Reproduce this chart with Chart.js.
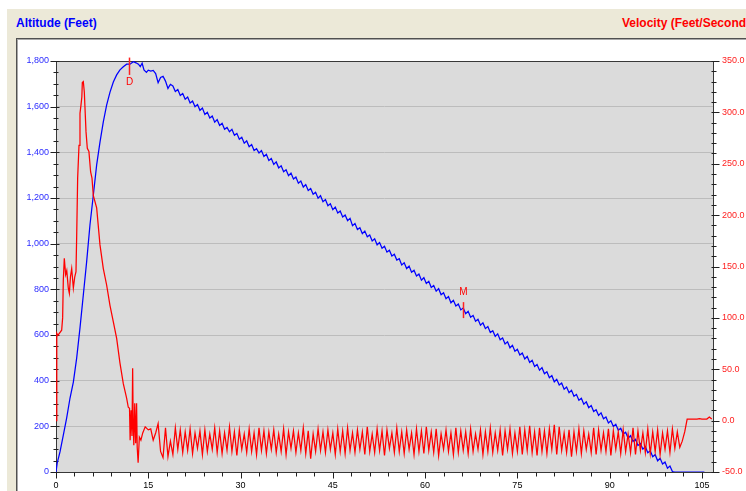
<!DOCTYPE html>
<html lang="en">
<head>
<meta charset="UTF-8">
<title>Altitude / Velocity</title>
<script src="https://cdn.jsdelivr.net/npm/chart.js"></script>
<style>
  html, body { margin: 0; padding: 0; width: 746px; height: 491px; overflow: hidden; background: #fff;
    font-family: 'Liberation Sans', Arial, sans-serif; }
  .frame { position: absolute; left: 7px; top: 9px; right: 0; bottom: 0; background: #ece9d8; }
  .title { position: absolute; top: 16px; font-size: 12px; font-weight: bold; white-space: nowrap; }
  .title.left { left: 16px; color: #0000ff; }
  .title.right { left: 622px; color: #ff0000; }
  .panel { position: absolute; left: 16px; top: 38px; right: -2px; bottom: -2px; background: #fff;
    border-top: 1px solid #505050; border-left: 1px solid #505050; box-shadow: inset 1px 1px 0 #a8a8a8; }
  .chart { position: absolute; left: 18px; top: 39px; width: 728px; height: 452px; }
</style>
</head>
<body>
<div class="frame"></div>
<div class="title left">Altitude (Feet)</div>
<div class="title right">Velocity (Feet/Second)</div>
<div class="panel"></div>
<div class="chart"><canvas id="flight" width="728" height="452"></canvas></div>

<script>
// tick labels
const timeTicks = [0, 15, 30, 45, 60, 75, 90, 105];
const altTicks = [0, 200, 400, 600, 800, 1000, 1200, 1400, 1600, 1800];
const velTicks = [-50, 0, 50, 100, 150, 200, 250, 300, 350];

// altitude during boost (seconds, feet)
const altLaunchT = [0, 0.2, 0.65, 1.19, 1.73, 2.28, 2.82, 3.36, 3.9, 4.44, 4.98, 5.52, 6.07, 6.61, 7.15,
  7.69, 8.23, 8.78, 9.32, 9.86, 10.4, 10.94, 11.48, 12.03, 12.57, 13.0, 13.4, 13.7, 14.0, 14.3, 14.7];
const altLaunch = [0, 40, 88, 161, 236, 324, 394, 499, 631, 775, 920, 1082, 1213, 1345, 1445,
  1533, 1607, 1664, 1708, 1739, 1761, 1775, 1786, 1786, 1797, 1792, 1786, 1775, 1790, 1761, 1750];

// velocity during boost (seconds, ft/s)
const velLaunchT = [0, 0.1, 0.15, 0.3, 0.54, 0.92, 1.08, 1.19, 1.35, 1.57, 1.75, 2.0, 2.17, 2.35, 2.55,
  2.82, 3.05, 3.25, 3.36, 3.52, 3.74, 3.9, 4.06, 4.2, 4.28, 4.44, 4.6, 4.88, 5.09, 5.35,
  5.63, 5.85, 6.07, 6.61, 7.15, 7.69, 8.23, 8.78, 9.32, 9.86, 10.4, 10.94, 11.48, 11.75, 11.95,
  12.05, 12.2, 12.35, 12.46, 12.55, 12.65, 12.8, 12.95, 13.1, 13.2, 13.35, 13.55, 13.8, 14.1, 14.5];
const velLaunch = [0, 60, 85, 83, 85, 88, 100, 137, 158, 142, 146, 129, 124, 140, 148,
  129, 140, 145, 179, 236, 268, 299, 307, 315, 329, 330, 320, 281, 265, 262,
  242, 236, 219, 207, 171, 148, 132, 112, 96, 80, 56, 36, 22, 13, 12,
  -19, 10, -15, 51, -5, -24, 17, -22, 17, -26, -41, -16, -19, -12, -6];

// descent, logged every 0.4 s
const descentT = [
  15, 15.4, 15.8, 16.2, 16.6,  17, 17.4, 17.8, 18.2, 18.6,
  19, 19.4, 19.8, 20.2, 20.6,  21, 21.4, 21.8, 22.2, 22.6,
  23, 23.4, 23.8, 24.2, 24.6,  25, 25.4, 25.8, 26.2, 26.6,
  27, 27.4, 27.8, 28.2, 28.6,  29, 29.4, 29.8, 30.2, 30.6,
  31, 31.4, 31.8, 32.2, 32.6,  33, 33.4, 33.8, 34.2, 34.6,
  35, 35.4, 35.8, 36.2, 36.6,  37, 37.4, 37.8, 38.2, 38.6,
  39, 39.4, 39.8, 40.2, 40.6,  41, 41.4, 41.8, 42.2, 42.6,
  43, 43.4, 43.8, 44.2, 44.6,  45, 45.4, 45.8, 46.2, 46.6,
  47, 47.4, 47.8, 48.2, 48.6,  49, 49.4, 49.8, 50.2, 50.6,
  51, 51.4, 51.8, 52.2, 52.6,  53, 53.4, 53.8, 54.2, 54.6,
  55, 55.4, 55.8, 56.2, 56.6,  57, 57.4, 57.8, 58.2, 58.6,
  59, 59.4, 59.8, 60.2, 60.6,  61, 61.4, 61.8, 62.2, 62.6,
  63, 63.4, 63.8, 64.2, 64.6,  65, 65.4, 65.8, 66.2, 66.6,
  67, 67.4, 67.8, 68.2, 68.6,  69, 69.4, 69.8, 70.2, 70.6,
  71, 71.4, 71.8, 72.2, 72.6,  73, 73.4, 73.8, 74.2, 74.6,
  75, 75.4, 75.8, 76.2, 76.6,  77, 77.4, 77.8, 78.2, 78.6,
  79, 79.4, 79.8, 80.2, 80.6,  81, 81.4, 81.8, 82.2, 82.6,
  83, 83.4, 83.8, 84.2, 84.6,  85, 85.4, 85.8, 86.2, 86.6,
  87, 87.4, 87.8, 88.2, 88.6,  89, 89.4, 89.8, 90.2, 90.6,
  91, 91.4, 91.8, 92.2, 92.6,  93, 93.4, 93.8, 94.2, 94.6,
  95, 95.4, 95.8, 96.2, 96.6,  97, 97.4, 97.8, 98.2, 98.6,
  99, 99.4, 99.8, 100.2, 100.6,  101, 101.4, 101.8, 102.2, 102.6,
  103, 103.4, 103.8, 104.2, 104.6,  105, 105.4, 105.8, 106.2, 106.6];

const altDescent = [
  1760, 1756, 1759, 1745, 1705,  1728, 1733, 1712, 1680, 1698,
  1691, 1666, 1675, 1649, 1658,  1633, 1642, 1616, 1625, 1600,
  1609, 1584, 1594, 1566, 1575,  1550, 1559, 1532, 1543, 1518,
  1527, 1501, 1509, 1490, 1501,  1475, 1483, 1457, 1466, 1440,
  1450, 1425, 1434, 1408, 1416,  1397, 1408, 1382, 1391, 1364,
  1373, 1347, 1358, 1332, 1341,  1315, 1324, 1298, 1309, 1283,
  1292, 1265, 1274, 1248, 1259,  1233, 1242, 1216, 1225, 1199,
  1210, 1184, 1193, 1166, 1175,  1149, 1160, 1134, 1143, 1117,
  1126, 1101, 1111, 1079, 1088,  1062, 1070, 1044, 1055, 1030,
  1038, 1012, 1021, 995, 1005,  980, 989, 963, 971, 946,
  954, 928, 934, 907, 916,  891, 902, 875, 884, 858,
  867, 840, 851, 826, 835,  808, 817, 792, 803, 776,
  785, 759, 768, 741, 752,  727, 736, 710, 718, 693,
  704, 678, 686, 660, 669,  643, 653, 628, 637, 611,
  619, 594, 605, 579, 587,  561, 570, 544, 555, 529,
  538, 512, 521, 495, 506,  480, 489, 462, 471, 446,
  457, 430, 439, 413, 422,  395, 406, 381, 390, 363,
  372, 347, 358, 332, 340,  314, 323, 297, 307, 282,
  291, 265, 273, 248, 259,  233, 241, 215, 224, 199,
  209, 183, 192, 166, 174,  148, 159, 134, 143, 116,
  125, 100, 111, 84, 93,  67, 76, 49, 60, 35,
  44, 17, 26, 2, 0,  0, 0, 0, 0, 0,
  0, 0, 0, 0, 0,  0, 0, null, null, null];

const velDescent = [
  -9, -8, -19, -12, -3,  -30, -36, -7, -35, -20,
  -33, -7, -28, -9, -31,  -11, -29, -8, -32, -12,
  -27, -10, -33, -9, -30,  -13, -28, -7, -31, -10,
  -32, -12, -29, -6, -30,  -11, -34, -9, -28, -13,
  -31, -8, -30, -12, -33,  -7, -29, -10, -32, -11,
  -28, -9, -31, -13, -30,  -8, -33, -11, -27, -10,
  -31, -12, -29, -7, -32,  -10, -37, -13, -30, -8,
  -29, -11, -31, -9, -28,  -12, -33, -8, -30, -10,
  -32, -7, -29, -12, -31,  -9, -28, -11, -33, -6,
  -30, -13, -31, -8, -29,  -10, -34, -9, -27, -12,
  -31, -7, -30, -11, -32,  -9, -28, -12, -33, -8,
  -30, -10, -32, -6, -29,  -11, -31, -8, -34, -13,
  -28, -9, -30, -12, -33,  -7, -31, -10, -29, -11,
  -32, -8, -30, -13, -28,  -9, -33, -11, -30, -7,
  -31, -12, -29, -9, -34,  -10, -28, -8, -32, -12,
  -30, -6, -33, -9, -29,  -5, -31, -11, -34, -7,
  -30, -10, -32, -8, -28,  -4, -33, -6, -29, -12,
  -31, -9, -35, -11, -30,  -8, -32, -10, -28, -13,
  -31, -7, -33, -9, -29,  -12, -30, -8, -34, -10,
  -28, -11, -32, -9, -30,  -13, -31, -7, -33, -10,
  -29, -12, -31, -8, -32,  -11, -30, -9, -33, -12,
  -28, -10, -31, -8, -27,  -11, -26, -20, -11, 1.5,
  1.5, 1.5, 1.5, 1.5, 2,  1.5, 1.5, 1.5, 3.5, 1.5];

// flight event markers (D = drogue, M = main)
const markerNames = ['D', 'M'];
const markerTimes = [11.9, 66.1];
const markerAltLow = [1739, 674];
const markerAltHigh = [1815, 744];
const markerLabelAlt = [1708, 788];

function toPoints(ts, vs) {
    return ts.map((t, i) => ({ x: t, y: vs[i] }));
}

const altData = toPoints(altLaunchT, altLaunch).concat(toPoints(descentT, altDescent));
const velData = toPoints(velLaunchT, velLaunch).concat(toPoints(descentT, velDescent));

const FONT = "'Liberation Sans', Arial, sans-serif";

// plot background, frame, tick marks and event markers
const plotDecor = {
    id: 'plotDecor',
    beforeDraw(chart) {
        const { ctx, chartArea: a } = chart;
        ctx.save();
        ctx.fillStyle = '#dbdbdb';
        ctx.fillRect(a.left, a.top, a.right - a.left, a.bottom - a.top);
        ctx.restore();
    },
    beforeDatasetsDraw(chart) {
        const { ctx, chartArea: a } = chart;
        const l = Math.round(a.left) + 0.5, r = Math.round(a.right) + 0.5;
        const t = Math.round(a.top) + 0.5, b = Math.round(a.bottom) + 0.5;
        ctx.save();
        ctx.strokeStyle = '#383838';
        ctx.lineWidth = 1;
        ctx.beginPath();
        ctx.moveTo(l, t); ctx.lineTo(r, t); ctx.lineTo(r, b); ctx.lineTo(l, b); ctx.closePath();
        ctx.stroke();

        ctx.strokeStyle = '#202020';
        ctx.beginPath();
        const yA = chart.scales.yAlt, yV = chart.scales.yVel, x = chart.scales.x;
        for (let v = 0; v <= 1800; v += 50) {
            const py = Math.round(yA.getPixelForValue(v)) + 0.5;
            const major = v % 200 === 0;
            ctx.moveTo(l - (major ? 6 : 3), py);
            ctx.lineTo(l + (major ? 3 : 2), py);
        }
        for (let v = -50; v <= 350; v += 10) {
            const py = Math.round(yV.getPixelForValue(v)) + 0.5;
            const major = v % 50 === 0;
            ctx.moveTo(r - 2, py);
            ctx.lineTo(r + (major ? 6 : 3), py);
        }
        for (let v = 0; v <= 105; v += 3) {
            const px = Math.round(x.getPixelForValue(v)) + 0.5;
            ctx.moveTo(px, b);
            ctx.lineTo(px, b + (v % 15 === 0 ? 6 : 4));
        }
        ctx.stroke();
        ctx.restore();
    },
    afterDatasetsDraw(chart) {
        const { ctx } = chart;
        const x = chart.scales.x, yA = chart.scales.yAlt;
        ctx.save();
        ctx.strokeStyle = '#ff2020';
        ctx.fillStyle = '#ff0000';
        ctx.lineWidth = 1.5;
        ctx.font = '10px ' + FONT;
        ctx.textAlign = 'center';
        ctx.textBaseline = 'middle';
        markerNames.forEach((name, i) => {
            const px = Math.round(x.getPixelForValue(markerTimes[i])) + 0.5;
            ctx.beginPath();
            ctx.moveTo(px, yA.getPixelForValue(markerAltHigh[i]));
            ctx.lineTo(px, yA.getPixelForValue(markerAltLow[i]));
            ctx.stroke();
            ctx.fillText(name, px, yA.getPixelForValue(markerLabelAlt[i]));
        });
        ctx.restore();
    }
};

new Chart(document.getElementById('flight'), {
    type: 'line',
    data: {
        datasets: [
            {
                label: 'Velocity',
                data: velData,
                yAxisID: 'yVel',
                borderColor: '#ff0000',
                borderWidth: 1.25,
                pointRadius: 0,
                tension: 0,
                order: 1
            },
            {
                label: 'Altitude',
                data: altData,
                yAxisID: 'yAlt',
                borderColor: '#0000ff',
                borderWidth: 1.25,
                pointRadius: 0,
                tension: 0,
                order: 2
            }
        ]
    },
    options: {
        responsive: false,
        animation: false,
        devicePixelRatio: 1,
        layout: { padding: { top: 22, left: 0, right: 0, bottom: 0 } },
        plugins: { legend: { display: false }, tooltip: { enabled: false } },
        scales: {
            x: {
                type: 'linear',
                min: 0,
                max: 106.8,
                afterBuildTicks: s => { s.ticks = timeTicks.map(v => ({ value: v })); },
                afterFit: s => { s.height = 19; },
                grid: { display: false, drawTicks: false },
                border: { display: false },
                ticks: { padding: 8, color: '#000', maxRotation: 0, font: { family: FONT, size: 9 } }
            },
            yAlt: {
                type: 'linear',
                position: 'left',
                min: 0,
                max: 1800,
                afterBuildTicks: s => { s.ticks = altTicks.map(v => ({ value: v })); },
                afterFit: s => { s.width = 38; },
                grid: { color: '#bcbcbc', drawTicks: false },
                border: { display: false },
                ticks: {
                    padding: 7,
                    color: '#2b2bff',
                    font: { family: FONT, size: 9 },
                    callback: v => v.toLocaleString('en-US')
                }
            },
            yVel: {
                type: 'linear',
                position: 'right',
                min: -50,
                max: 350,
                afterBuildTicks: s => { s.ticks = velTicks.map(v => ({ value: v })); },
                afterFit: s => { s.width = 33; },
                grid: { display: false, drawTicks: false },
                border: { display: false },
                ticks: {
                    padding: 9,
                    color: '#ff2020',
                    font: { family: FONT, size: 9 },
                    callback: v => v.toFixed(1)
                }
            }
        }
    },
    plugins: [plotDecor]
});
</script>
</body>
</html>
